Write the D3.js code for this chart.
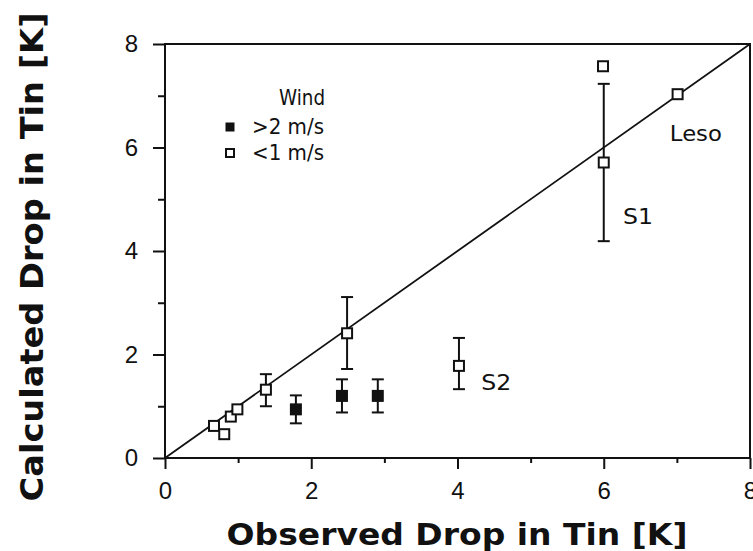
<!DOCTYPE html>
<html>
<head>
<meta charset="utf-8">
<script src="https://cdn.jsdelivr.net/npm/d3@7"></script>
<style>
  html, body { margin: 0; padding: 0; background: #fff; }
  svg { display: block; }
</style>
</head>
<body>
<div id="wrapper"></div>
<script>
/* DATA */
// open squares: wind < 1 m/s
const calmObserved   = [0.67, 0.81, 0.90, 0.99, 1.38, 2.49, 4.02, 5.99, 6.00, 7.01]
const calmCalculated = [0.62, 0.46, 0.80, 0.94, 1.32, 2.41, 1.78, 7.57, 5.71, 7.03]
const calmErrLow     = [null, null, null, null, 1.00, 1.72, 1.33, null, 4.19, null]
const calmErrHigh    = [null, null, null, null, 1.62, 3.11, 2.32, null, 7.23, null]

// filled squares: wind > 2 m/s
const windyObserved   = [1.79, 2.42, 2.91]
const windyCalculated = [0.94, 1.20, 1.20]
const windyErrLow     = [0.67, 0.88, 0.88]
const windyErrHigh    = [1.21, 1.52, 1.52]

const siteNames = ['S1', 'S2', 'Leso']
const siteX = [6.47, 4.53, 7.26]
const siteY = [4.66, 1.45, 6.28]

const legendTitle = 'Wind'
const legendLabels = ['>2 m/s', '<1 m/s']

const majorTicks = [0, 2, 4, 6, 8]
const minorTicks = [1, 3, 5, 7]
const parityLine = [0, 8]

const xTitle = 'Observed Drop in Tin [K]'
const yTitle = 'Calculated Drop in Tin [K]'

/* CHART DIMENSIONS */
const dimensions = {
  width: 753,
  height: 551,
  margin: { top: 44, right: 3, bottom: 93, left: 165 },
  marker: 12,
  cap: 12
}
dimensions.boundedWidth = dimensions.width - (dimensions.margin.left + dimensions.margin.right)
dimensions.boundedHeight = dimensions.height - (dimensions.margin.top + dimensions.margin.bottom)

/* SCALES */
const xScale = d3.scaleLinear().domain([0, 8]).range([0, dimensions.boundedWidth])
const yScale = d3.scaleLinear().domain([0, 8]).range([dimensions.boundedHeight, 0])

const toPoints = (xs, ys, lo, hi) => xs.map((x, i) => ({ x, y: ys[i], lo: lo[i], hi: hi[i] }))
const calmPoints = toPoints(calmObserved, calmCalculated, calmErrLow, calmErrHigh)
const windyPoints = toPoints(windyObserved, windyCalculated, windyErrLow, windyErrHigh)

/* DRAW */
const svg = d3.select('#wrapper')
  .append('svg')
  .attr('width', dimensions.width)
  .attr('height', dimensions.height)
  .style('font-family', '"DejaVu Sans", sans-serif')

const bounds = svg.append('g')
  .attr('transform', `translate(${dimensions.margin.left} ${dimensions.margin.top})`)

// axes: major ticks with labels, minor ticks without
const styleAxis = g => {
  g.select('.domain').remove()
  g.selectAll('line').attr('stroke', '#111').attr('stroke-width', 2)
  g.selectAll('text').attr('fill', '#111').attr('font-size', 24)
}

bounds.append('g')
  .attr('transform', `translate(0 ${dimensions.boundedHeight})`)
  .call(d3.axisBottom(xScale).tickValues(majorTicks).tickSize(11).tickPadding(13).tickFormat(d3.format('d')))
  .call(styleAxis)
bounds.append('g')
  .attr('transform', `translate(0 ${dimensions.boundedHeight})`)
  .call(d3.axisBottom(xScale).tickValues(minorTicks).tickSize(5).tickFormat(''))
  .call(styleAxis)
bounds.append('g')
  .call(d3.axisLeft(yScale).tickValues(majorTicks).tickSize(12).tickPadding(15).tickFormat(d3.format('d')))
  .call(styleAxis)
bounds.append('g')
  .call(d3.axisLeft(yScale).tickValues(minorTicks).tickSize(7).tickFormat(''))
  .call(styleAxis)

// frame
bounds.append('rect')
  .attr('x', 0).attr('y', 0)
  .attr('width', dimensions.boundedWidth)
  .attr('height', dimensions.boundedHeight)
  .attr('fill', 'none')
  .attr('stroke', '#111')
  .attr('stroke-width', 2)

// 1:1 line
bounds.append('path')
  .datum(parityLine)
  .attr('d', d3.line().x(d => xScale(d)).y(d => yScale(d)))
  .attr('fill', 'none')
  .attr('stroke', '#111')
  .attr('stroke-width', 1.8)

// error bars
const drawErrors = (points) => {
  const g = bounds.append('g')
    .attr('stroke', '#111')
    .attr('stroke-width', 2)
  const withErr = points.filter(d => d.lo != null)
  g.selectAll('.stem').data(withErr).enter().append('line')
    .attr('x1', d => xScale(d.x)).attr('x2', d => xScale(d.x))
    .attr('y1', d => yScale(d.lo)).attr('y2', d => yScale(d.hi))
  g.selectAll('.capHi').data(withErr).enter().append('line')
    .attr('x1', d => xScale(d.x) - dimensions.cap / 2).attr('x2', d => xScale(d.x) + dimensions.cap / 2)
    .attr('y1', d => yScale(d.hi)).attr('y2', d => yScale(d.hi))
  g.selectAll('.capLo').data(withErr).enter().append('line')
    .attr('x1', d => xScale(d.x) - dimensions.cap / 2).attr('x2', d => xScale(d.x) + dimensions.cap / 2)
    .attr('y1', d => yScale(d.lo)).attr('y2', d => yScale(d.lo))
}
drawErrors(calmPoints)
drawErrors(windyPoints)

const s = dimensions.marker
bounds.append('g')
  .selectAll('rect')
  .data(windyPoints)
  .enter()
  .append('rect')
  .attr('x', d => xScale(d.x) - s / 2)
  .attr('y', d => yScale(d.y) - s / 2)
  .attr('width', s).attr('height', s)
  .attr('fill', '#111')

bounds.append('g')
  .selectAll('rect')
  .data(calmPoints)
  .enter()
  .append('rect')
  .attr('x', d => xScale(d.x) - (s - 2) / 2)
  .attr('y', d => yScale(d.y) - (s - 2) / 2)
  .attr('width', s - 2).attr('height', s - 2)
  .attr('fill', '#fff')
  .attr('stroke', '#111')
  .attr('stroke-width', 2)

// site labels
bounds.append('g')
  .attr('font-size', 22)
  .attr('fill', '#111')
  .attr('text-anchor', 'middle')
  .attr('dominant-baseline', 'central')
  .selectAll('text')
  .data(siteNames)
  .enter()
  .append('text')
  .attr('x', (d, i) => xScale(siteX[i]))
  .attr('y', (d, i) => yScale(siteY[i]))
  .attr('textLength', (d, i) => i === 2 ? 52 : 30)
  .attr('lengthAdjust', 'spacingAndGlyphs')
  .text(d => d)

/* LEGEND */
const legend = svg.append('g')
  .attr('fill', '#111')
  .attr('font-size', 21)

legend.append('text')
  .attr('x', 302)
  .attr('y', 98)
  .attr('text-anchor', 'middle')
  .attr('dominant-baseline', 'central')
  .attr('textLength', 46)
  .attr('lengthAdjust', 'spacingAndGlyphs')
  .text(legendTitle)

const legendRows = legend.selectAll('.row')
  .data(legendLabels)
  .enter()
  .append('g')
  .attr('transform', (d, i) => `translate(230 ${127 + i * 26})`)

legendRows.append('rect')
  .attr('x', -4).attr('y', -4)
  .attr('width', 8).attr('height', 8)
  .attr('fill', (d, i) => i === 0 ? '#111' : '#fff')
  .attr('stroke', '#111')
  .attr('stroke-width', (d, i) => i === 0 ? 1 : 2)

legendRows.append('text')
  .attr('x', 22)
  .attr('dominant-baseline', 'central')
  .attr('textLength', 72)
  .attr('lengthAdjust', 'spacingAndGlyphs')
  .text(d => d)

/* AXIS TITLES */
svg.append('text')
  .attr('x', 457)
  .attr('y', 545)
  .attr('text-anchor', 'middle')
  .attr('font-size', 31)
  .attr('font-weight', 'bold')
  .attr('fill', '#111')
  .attr('textLength', 461)
  .attr('lengthAdjust', 'spacingAndGlyphs')
  .text(xTitle)

svg.append('text')
  .attr('transform', 'translate(43 257) rotate(-90)')
  .attr('text-anchor', 'middle')
  .attr('font-size', 32)
  .attr('font-weight', 'bold')
  .attr('fill', '#111')
  .attr('textLength', 489)
  .attr('lengthAdjust', 'spacingAndGlyphs')
  .text(yTitle)
</script>
</body>
</html>
